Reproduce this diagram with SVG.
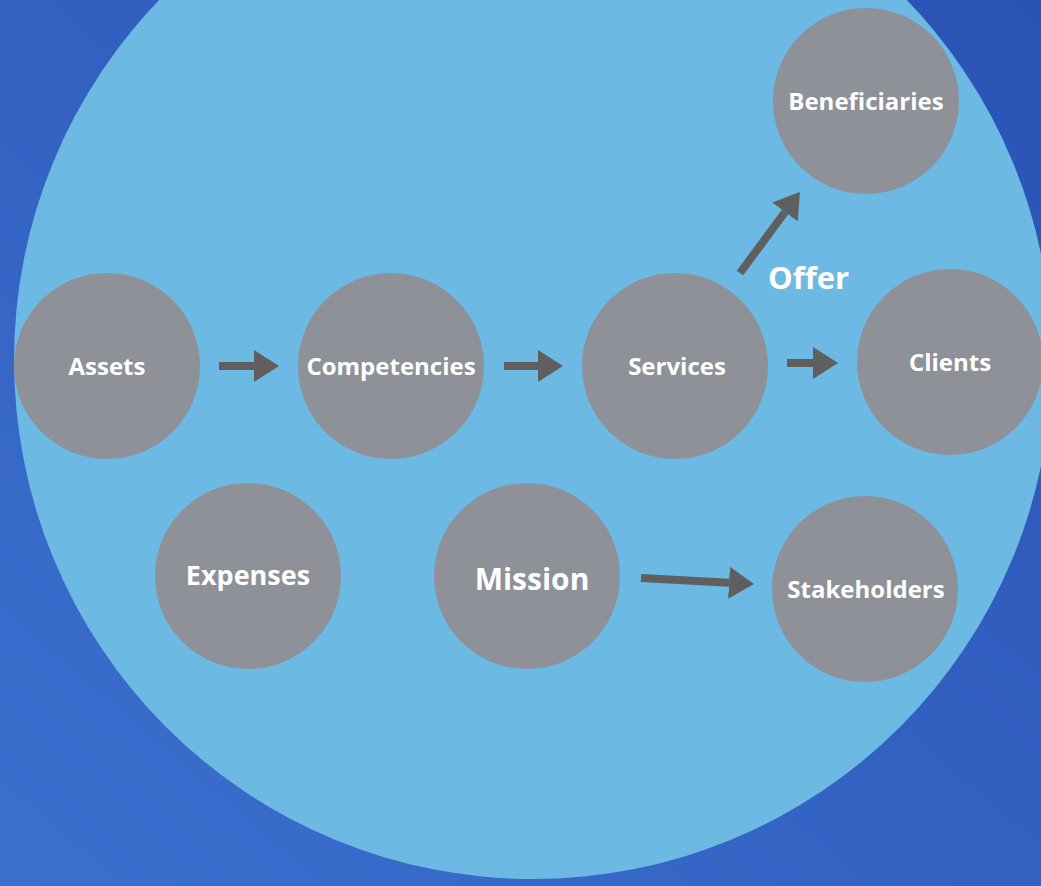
<svg xmlns="http://www.w3.org/2000/svg" width="1041" height="886" viewBox="0 0 1041 886">
<defs>
<linearGradient id="bg" x1="0" y1="1" x2="1" y2="0">
<stop offset="0" stop-color="#3b70cf"/>
<stop offset="1" stop-color="#2a52b5"/>
</linearGradient>
<marker id="ah" markerUnits="userSpaceOnUse" markerWidth="26" markerHeight="34" refX="0" refY="16" orient="auto">
<path d="M0,0 L25,16 L0,32 z" fill="#5f5f60"/>
</marker>
<style>
.node circle{fill:#8e9198}
.node text{font-family:"Open Sans","Liberation Sans",sans-serif;font-weight:bold;fill:#ffffff;text-anchor:middle;font-size:24px}
.conn line{stroke:#5f5f60;stroke-width:8;marker-end:url(#ah)}
.lbl{font-family:"Open Sans","Liberation Sans",sans-serif;font-weight:bold;fill:#ffffff;font-size:31px}
</style>
</defs>
<rect width="1041" height="886" fill="url(#bg)"/>
<circle cx="533" cy="360" r="519" fill="#6cb9e3"/>
<g id="connectors" class="conn">
<line x1="219" y1="366" x2="254" y2="366"/>
<line x1="504" y1="366" x2="538" y2="366"/>
<line x1="787" y1="363" x2="813" y2="363"/>
<line x1="740" y1="273" x2="785" y2="212"/>
<line x1="641" y1="578" x2="729" y2="582.7"/>
</g>
<text class="lbl" x="768" y="289">Offer</text>
<g id="assets" class="node"><circle cx="107" cy="366" r="93"/><text x="107" y="375">Assets</text></g>
<g id="competencies" class="node"><circle cx="391" cy="366" r="93"/><text x="391" y="375">Competencies</text></g>
<g id="services" class="node"><circle cx="675" cy="366" r="93"/><text x="677" y="375">Services</text></g>
<g id="clients" class="node"><circle cx="950" cy="362" r="93"/><text x="950" y="371">Clients</text></g>
<g id="beneficiaries" class="node"><circle cx="866" cy="101" r="93"/><text x="866" y="110">Beneficiaries</text></g>
<g id="expenses" class="node"><circle cx="248" cy="576" r="93"/><text x="248" y="585" style="font-size:27px">Expenses</text></g>
<g id="mission" class="node"><circle cx="527" cy="576" r="93"/><text x="532" y="590" style="font-size:30px">Mission</text></g>
<g id="stakeholders" class="node"><circle cx="865" cy="589" r="93"/><text x="866" y="598">Stakeholders</text></g>
</svg>
